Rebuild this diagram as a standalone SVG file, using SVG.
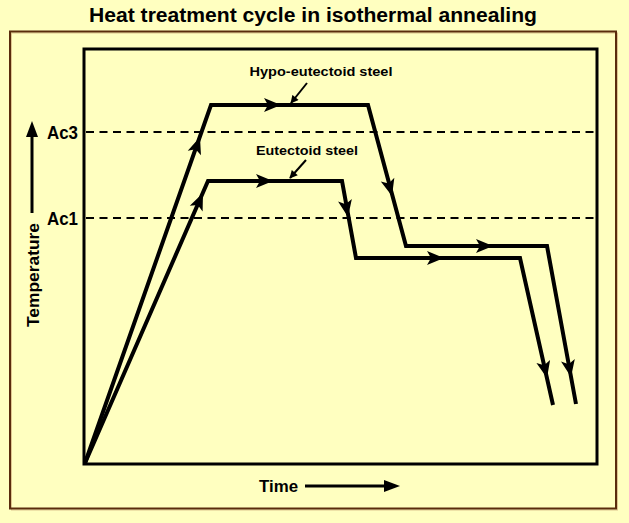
<svg xmlns="http://www.w3.org/2000/svg" xmlns:xlink="http://www.w3.org/1999/xlink" width="629" height="523" viewBox="0 0 629 523">
  <style>
    .t { font-family: "Liberation Sans", Arial, sans-serif; font-weight: bold; fill: #000; }
    .curve { fill: none; stroke: #000; stroke-width: 4; stroke-linejoin: miter; }
    .dash { fill: none; stroke: #000; stroke-width: 1.8; stroke-dasharray: 8 5.5; }
    .ptr { fill: none; stroke: #000; stroke-width: 2; }
    .axarrow { fill: none; stroke: #000; stroke-width: 3; }
  </style>
  <defs>
    <path id="ah" d="M0,0 L-17,-7 L-13,0 L-17,7 Z" fill="#000"/>
    <marker id="pm" viewBox="0 0 10 10" refX="9" refY="5" markerWidth="9" markerHeight="8" orient="auto" markerUnits="userSpaceOnUse">
      <path d="M0,0 L10,5 L0,10 Z" fill="#000"/>
    </marker>
  </defs>
  <rect x="0" y="0" width="629" height="523" fill="#ffffc0"/>
  <g id="title">
    <text class="t" x="313" y="22" font-size="20" text-anchor="middle" textLength="448" lengthAdjust="spacingAndGlyphs">Heat treatment cycle in isothermal annealing</text>
  </g>
  <g id="frame">
    <rect x="11.5" y="33" width="606" height="477" fill="none" stroke="#c9a070" stroke-width="1" opacity="0.6"/>
    <rect x="10" y="31.5" width="606" height="477" fill="none" stroke="#5a2c0c" stroke-width="2"/>
  </g>
  <g id="plot-box">
    <rect x="84" y="49" width="513" height="415" fill="none" stroke="#000" stroke-width="3"/>
  </g>
  <g id="levels">
    <line class="dash" x1="86" y1="132" x2="596" y2="132"/>
    <line class="dash" x1="86" y1="218" x2="596" y2="218"/>
    <text class="t" x="47" y="139" font-size="18" textLength="31" lengthAdjust="spacingAndGlyphs">Ac3</text>
    <text class="t" x="47" y="225" font-size="18" textLength="31" lengthAdjust="spacingAndGlyphs">Ac1</text>
  </g>
  <g id="axis-labels">
    <text class="t" transform="translate(39,275) rotate(-90)" font-size="16" text-anchor="middle" textLength="104" lengthAdjust="spacingAndGlyphs">Temperature</text>
    <line class="axarrow" x1="32" y1="213" x2="32" y2="134"/>
    <path d="M32,121 L38,137 L26,137 Z" fill="#000"/>
    <text class="t" x="259" y="492" font-size="17" textLength="39" lengthAdjust="spacingAndGlyphs">Time</text>
    <line class="axarrow" x1="305" y1="486" x2="386" y2="486"/>
    <path d="M400,486 L384,480 L384,492 Z" fill="#000"/>
  </g>
  <g id="hypo-eutectoid">
    <polyline class="curve" points="85,463 211,105 368,105 406,246 547,246 576,404"/>
    <use xlink:href="#ah" transform="translate(200,137) rotate(-70.6)"/>
    <use xlink:href="#ah" transform="translate(281,105)"/>
    <use xlink:href="#ah" transform="translate(392,196) rotate(74.9)"/>
    <use xlink:href="#ah" transform="translate(493,246)"/>
    <use xlink:href="#ah" transform="translate(571,377) rotate(79.6)"/>
    <text class="t" x="321" y="76" font-size="13.5" text-anchor="middle" textLength="143" lengthAdjust="spacingAndGlyphs">Hypo-eutectoid steel</text>
  </g>
  <g id="eutectoid">
    <polyline class="curve" points="85,463 208,181 342,181 356,258 520,258 553,405"/>
    <use xlink:href="#ah" transform="translate(203,193) rotate(-66.4)"/>
    <use xlink:href="#ah" transform="translate(273,181)"/>
    <use xlink:href="#ah" transform="translate(348,217) rotate(79.7)"/>
    <use xlink:href="#ah" transform="translate(444,258)"/>
    <use xlink:href="#ah" transform="translate(547,378) rotate(77.3)"/>
    <text class="t" x="307" y="155" font-size="13.5" text-anchor="middle" textLength="102" lengthAdjust="spacingAndGlyphs">Eutectoid steel</text>
  </g>
  <g id="connectors">
    <line class="ptr" x1="307" y1="83" x2="291" y2="103" marker-end="url(#pm)"/>
    <line class="ptr" x1="306" y1="160" x2="290" y2="178" marker-end="url(#pm)"/>
  </g>
</svg>
